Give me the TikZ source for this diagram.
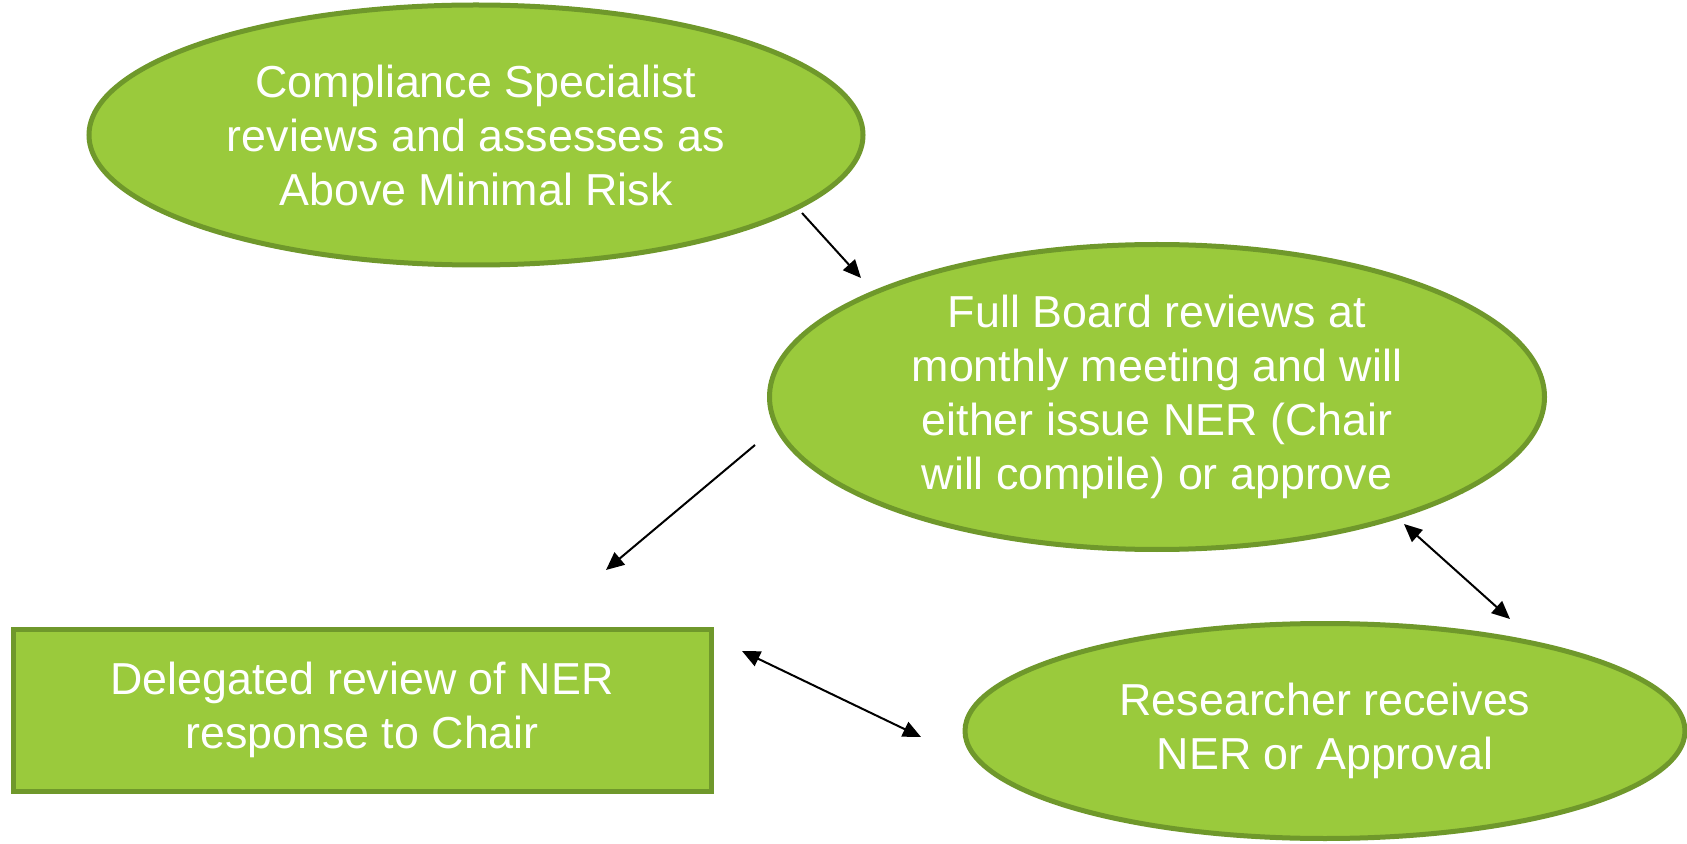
\documentclass[tikz,border=0pt]{standalone}
\usepackage{fontspec}
\setmainfont{Liberation Sans}
\usetikzlibrary{shapes.geometric, arrows.meta}

\definecolor{leaf}{HTML}{9ACA3C}
\definecolor{leafdark}{HTML}{6F982B}

\begin{document}
\begin{tikzpicture}[x=0.5pt, y=-0.5pt]
    \tikzstyle{step oval}=[ellipse, draw=leafdark, fill=leaf, line width=2.5pt, inner sep=0pt, text=white, align=center, font=\fontsize{22.4}{27}\selectfont];
    \tikzstyle{step box}=[rectangle, draw=leafdark, fill=leaf, line width=2.5pt, inner sep=0pt, text=white, align=center, font=\fontsize{22.4}{27}\selectfont];
    \tikzstyle{flow}=[black, line width=1pt, -{Triangle[length=9pt, width=8pt]}];
    \tikzstyle{twoway}=[black, line width=1pt, {Triangle[length=9pt, width=8pt]}-{Triangle[length=9pt, width=8pt]}];

    \useasboundingbox (0,0) rectangle (1687,844);

    \node[step oval, minimum width=387pt, minimum height=130pt] (specialist) at (476,135) {Compliance Specialist\\reviews and assesses as\\Above Minimal Risk};
    \node[step oval, minimum width=387.5pt, minimum height=152.5pt] (board) at (1157,397) {Full Board reviews at\\monthly meeting and will\\either issue NER (Chair\\will compile) or approve};
    \node[step oval, minimum width=360pt, minimum height=107.5pt] (researcher) at (1325,731) {Researcher receives\\NER or Approval};
    \node[step box, minimum width=349pt, minimum height=81pt] (delegated) at (362,710) {Delegated review of NER\\response to Chair};

    % arrow ends sit in the gaps between the shapes
    \coordinate (specialist out) at (802,213);
    \coordinate (board in) at (861,278);
    \coordinate (board out) at (755,445);
    \coordinate (delegated in) at (606,570);
    \coordinate (board low) at (1404,524);
    \coordinate (researcher top) at (1510,619);
    \coordinate (delegated right) at (742,651);
    \coordinate (researcher left) at (921,737);

    \draw[flow] (specialist out) -- (board in);
    \draw[flow] (board out) -- (delegated in);
    \draw[twoway] (board low) -- (researcher top);
    \draw[twoway] (delegated right) -- (researcher left);
\end{tikzpicture}
\end{document}
